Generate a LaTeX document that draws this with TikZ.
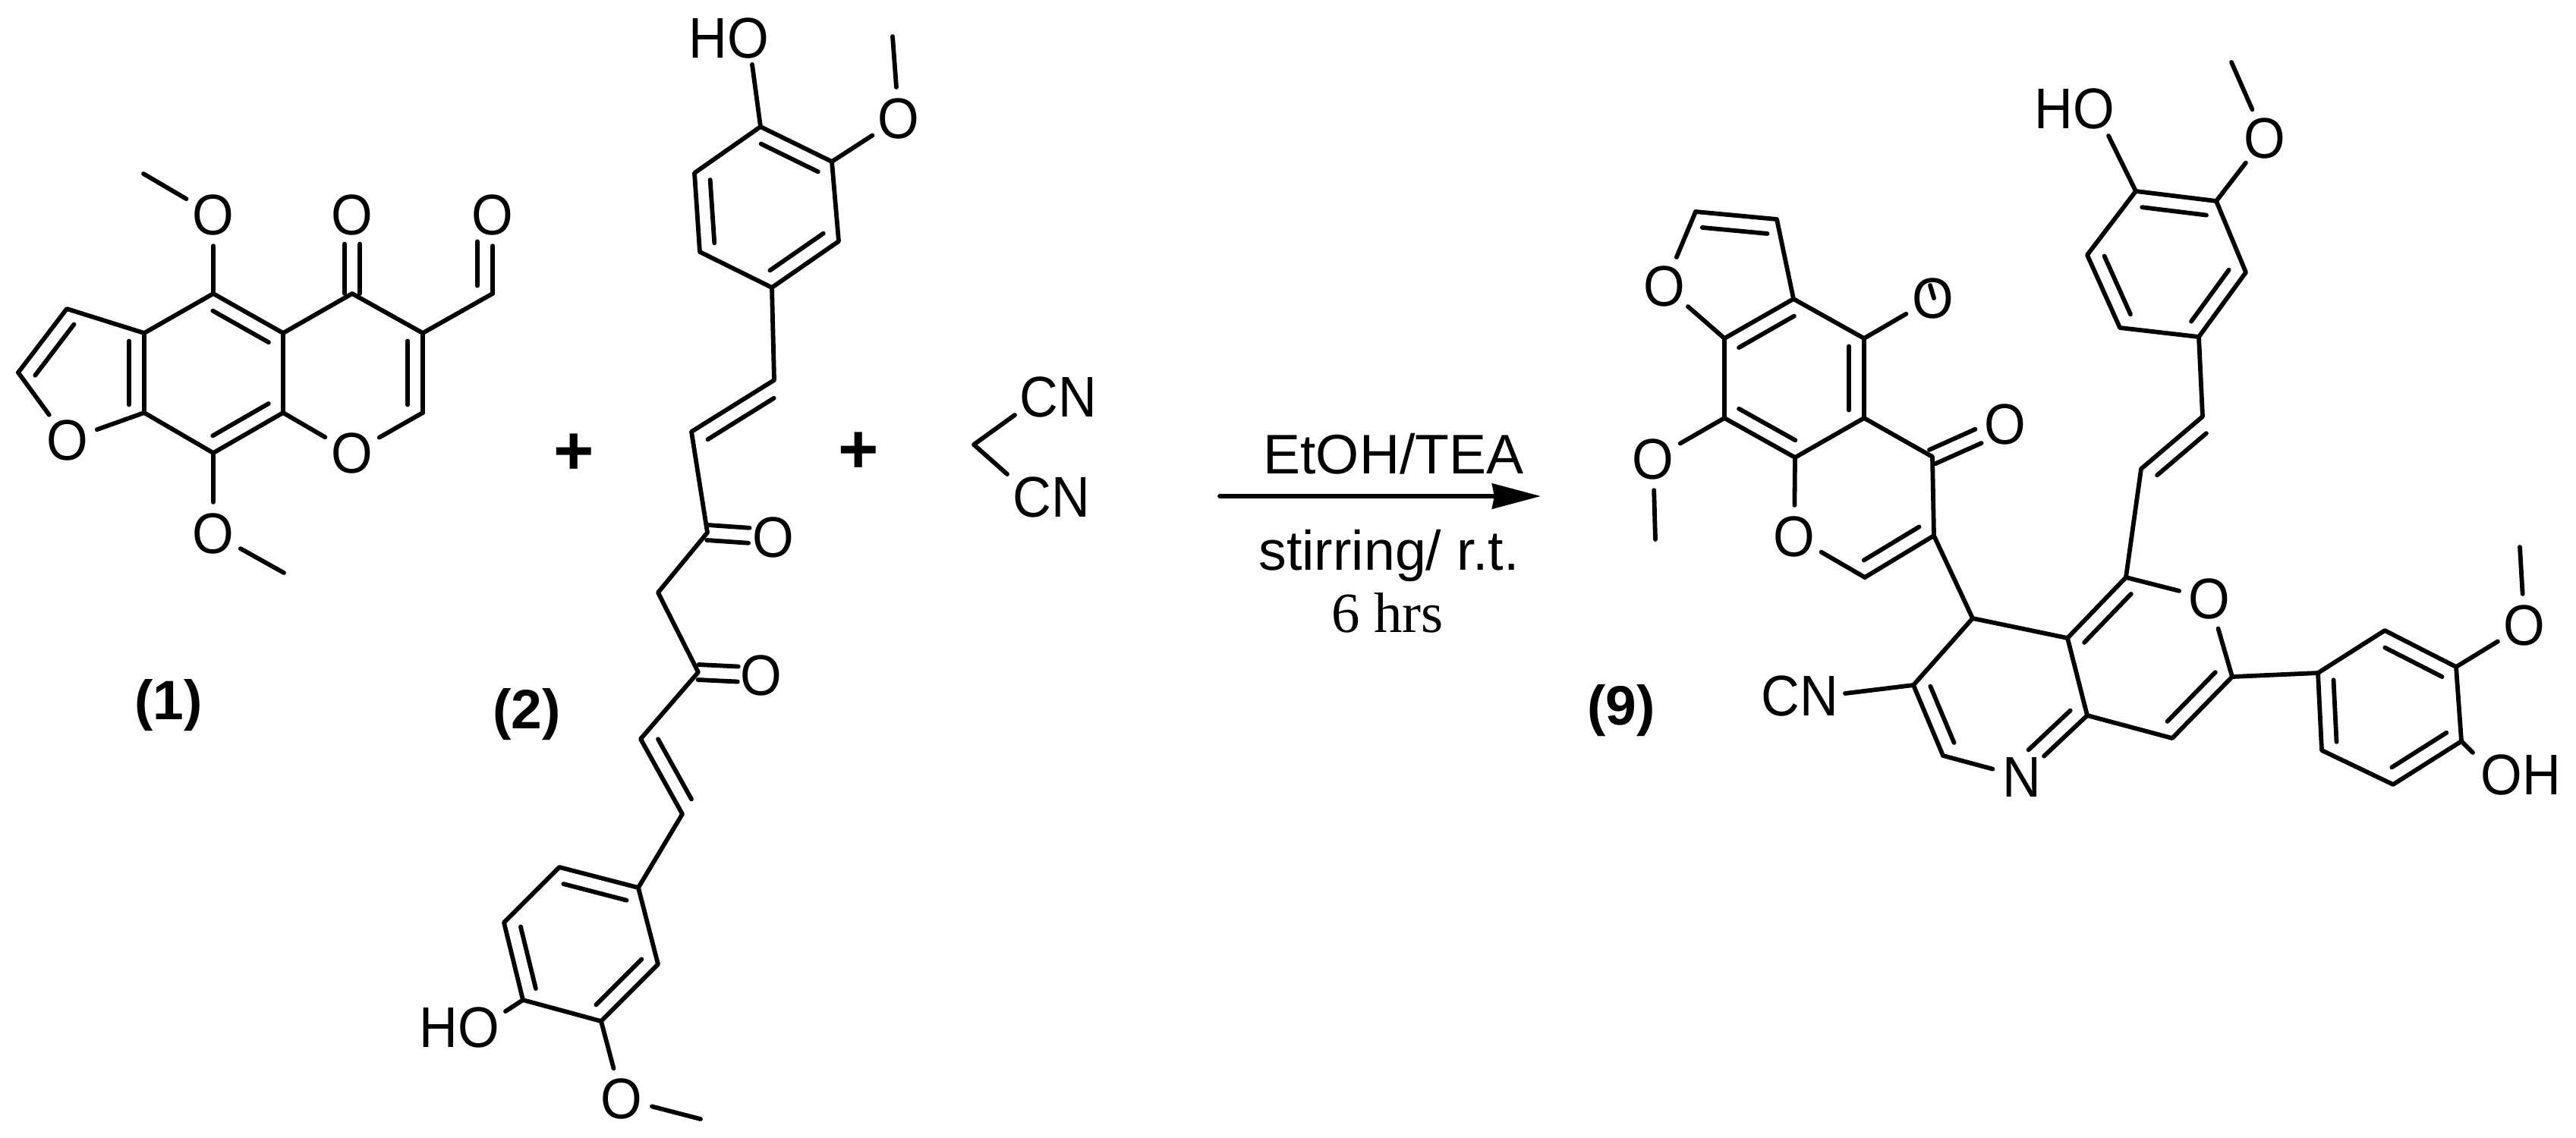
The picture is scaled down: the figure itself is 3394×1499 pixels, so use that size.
\documentclass[tikz,border=0pt]{standalone}
\usepackage{fontspec}
\usepackage{tikz}
\usetikzlibrary{calc,arrows.meta}
\setmainfont{Liberation Sans}
\newfontfamily\serifpart{Liberation Serif}
\newfontfamily\atompart[FakeStretch=0.93]{Liberation Sans}
\newcommand{\atomfont}{\fontsize{21.5}{25}\selectfont\atompart}
\newcommand{\inbond}[4][0.9]{\draw ($(#2)!0.1!(#3)!0.2cm!#4:(#3)$) -- ($(#2)!#1!(#3)!0.2cm!#4:(#3)$);}
\newcommand{\twobond}[2]{
    \draw ($(#1)!0.1cm!90:(#2)$) -- ($(#1)!0.63!(#2)!0.1cm!90:(#2)$);
    \draw ($(#1)!0.1cm!-90:(#2)$) -- ($(#1)!0.63!(#2)!0.1cm!-90:(#2)$);
}
\tikzset{
    atom/.style={circle, inner sep=0pt, minimum size=0.74cm, font=\atomfont},
    group/.style={inner sep=0pt, font=\atomfont},
    compound/.style={inner sep=0pt, font=\fontsize{20.8}{25}\selectfont\bfseries},
    plus/.style={inner sep=0pt, font=\fontsize{26}{30}\selectfont\bfseries},
    cond/.style={inner sep=0pt, anchor=base, font=\fontsize{20.9}{25}\selectfont}
}

\begin{document}
\begin{tikzpicture}[x=0.01cm, y=-0.01cm, line width=0.058cm, line cap=round, line join=round]
    \useasboundingbox (0, 0) rectangle (3394, 1499);

    \coordinate (a1) at (281, 387);
    \coordinate (a2) at (373, 439);
    \coordinate (a3) at (373, 544);
    \coordinate (a4) at (281, 597);
    \coordinate (a5) at (190, 544);
    \coordinate (a6) at (190, 439);
    \coordinate (a7) at (464, 387);
    \coordinate (a8) at (557, 439);
    \coordinate (a9) at (557, 544);
    \coordinate (a10) at (649, 387);
    \coordinate (a11) at (88, 407);
    \coordinate (a12) at (24, 491);
    \coordinate (mea1) at (189, 229);
    \coordinate (mea2) at (374, 755);
    \node[atom] (oa1) at (281, 283) {O};
    \node[atom] (oa2) at (281, 703) {O};
    \node[atom] (oa3) at (464, 283) {O};
    \node[atom] (oa4) at (649, 283) {O};
    \node[atom] (oa5) at (464, 597) {O};
    \node[atom] (oa6) at (89, 580) {O};
    \draw (a1) -- (a2) -- (a3) -- (a4) -- (a5) -- (a6) -- (a1);
    \draw (a2) -- (a7) -- (a8) -- (a9);
    \draw (a8) -- (a10);
    \draw (a6) -- (a11) -- (a12);
    \draw (a12) -- (oa6);
    \draw (a5) -- (oa6);
    \draw (a3) -- (oa5);
    \draw (a9) -- (oa5);
    \draw (a1) -- (oa1);
    \draw (oa1) -- (mea1);
    \draw (a4) -- (oa2);
    \draw (oa2) -- (mea2);
    \draw (a10) -- (oa4);
    \twobond{a7}{oa3}
    \inbond[0.66]{a10}{oa4}{90}
    \inbond{a1}{a2}{-90}
    \inbond{a6}{a5}{-90}
    \inbond{a4}{a3}{90}
    \inbond{a11}{a12}{90}
    \inbond{a8}{a9}{-90}
    \node[compound] (numa) at (222, 930) {(1)};
    \node[plus] (plusa) at (756, 599) {+};

    \coordinate (b1) at (1002, 167);
    \coordinate (b2) at (1096, 213);
    \coordinate (b3) at (1105, 318);
    \coordinate (b4) at (1017, 379);
    \coordinate (b5) at (922, 332);
    \coordinate (b6) at (915, 228);
    \coordinate (b7) at (1020, 501);
    \coordinate (b8) at (911, 569);
    \coordinate (b9) at (932, 702);
    \coordinate (b10) at (867, 781);
    \coordinate (b11) at (920, 886);
    \coordinate (b12) at (844, 974);
    \coordinate (b13) at (899, 1073);
    \coordinate (b14) at (841, 1170);
    \coordinate (b15) at (737, 1143);
    \coordinate (b16) at (664, 1216);
    \coordinate (b17) at (689, 1318);
    \coordinate (b18) at (792, 1346);
    \coordinate (b19) at (867, 1271);
    \coordinate (meb1) at (1176, 48);
    \coordinate (meb2) at (923, 1475);
    \coordinate (hob1) at (991, 85);
    \coordinate (hob2) at (666, 1333);
    \node[group] (ohb1) at (960, 50) {HO};
    \node[group] (ohb2) at (605, 1354) {HO};
    \node[atom] (ob1) at (1184, 156) {O};
    \node[atom] (ob2) at (1019, 708) {O};
    \node[atom] (ob3) at (1003, 890) {O};
    \node[atom] (ob4) at (819, 1448) {O};
    \draw (b1) -- (b2) -- (b3) -- (b4) -- (b5) -- (b6) -- (b1);
    \draw (b4) -- (b7) -- (b8) -- (b9) -- (b10) -- (b11) -- (b12) -- (b13) -- (b14);
    \draw (b14) -- (b15) -- (b16) -- (b17) -- (b18) -- (b19) -- (b14);
    \draw (b1) -- (hob1);
    \draw (b17) -- (hob2);
    \draw (b2) -- (ob1);
    \draw (ob1) -- (meb1);
    \draw (b18) -- (ob4);
    \draw (ob4) -- (meb2);
    \twobond{b9}{ob2}
    \twobond{b11}{ob3}
    \inbond{b1}{b2}{-90}
    \inbond{b6}{b5}{90}
    \inbond{b4}{b3}{90}
    \inbond{b7}{b8}{90}
    \inbond{b12}{b13}{90}
    \inbond{b14}{b15}{90}
    \inbond{b16}{b17}{90}
    \inbond{b18}{b19}{90}
    \node[compound] (numb) at (694, 942) {(2)};
    \node[plus] (plusb) at (1131, 597) {+};

    \coordinate (c1) at (1283, 586);
    \coordinate (cnc1) at (1337, 547);
    \coordinate (cnc2) at (1327, 625);
    \node[group] (cyc1) at (1394, 523) {CN};
    \node[group] (cyc2) at (1385, 655) {CN};
    \draw (cnc1) -- (c1) -- (cnc2);

    \coordinate (arrs) at (1607, 654);
    \coordinate (arrt) at (2030, 654);
    \draw[-{Stealth[length=0.64cm, width=0.33cm, inset=0.03cm]}] (arrs) -- (arrt);
    \node[cond] (cnda) at (1836, 624) {EtOH/TEA};
    \node[cond] (cndb) at (1830, 751) {stirring/ r.t.};
    \node[cond, font=\fontsize{21.3}{25}\selectfont\serifpart] (cndc) at (1828, 833) {6 hrs};

    \coordinate (p1) at (2363, 394);
    \coordinate (p2) at (2456, 446);
    \coordinate (p3) at (2456, 551);
    \coordinate (p4) at (2365, 603);
    \coordinate (p5) at (2272, 551);
    \coordinate (p6) at (2272, 446);
    \coordinate (p7) at (2457, 761);
    \coordinate (p8) at (2548, 706);
    \coordinate (p9) at (2546, 602);
    \coordinate (p10) at (2341, 289);
    \coordinate (p11) at (2234, 279);
    \coordinate (q1) at (2599, 815);
    \coordinate (q2) at (2521, 903);
    \coordinate (q3) at (2560, 996);
    \coordinate (q4) at (2750, 943);
    \coordinate (q5) at (2724, 841);
    \coordinate (q6) at (2801, 761);
    \coordinate (q7) at (2941, 892);
    \coordinate (q8) at (2862, 973);
    \coordinate (t1) at (3054, 887);
    \coordinate (t2) at (3142, 831);
    \coordinate (t3) at (3236, 879);
    \coordinate (t4) at (3243, 977);
    \coordinate (t5) at (3153, 1034);
    \coordinate (t6) at (3059, 989);
    \coordinate (v1) at (2821, 618);
    \coordinate (v2) at (2902, 549);
    \coordinate (w1) at (2897, 444);
    \coordinate (w2) at (2959, 359);
    \coordinate (w3) at (2920, 265);
    \coordinate (w4) at (2814, 252);
    \coordinate (w5) at (2750, 336);
    \coordinate (w6) at (2793, 432);
    \coordinate (mep1) at (2181, 711);
    \coordinate (mep2) at (3320, 721);
    \coordinate (mep3) at (2940, 82);
    \coordinate (cnp) at (2431, 914);
    \coordinate (hop1) at (3258, 992);
    \coordinate (hop2) at (2778, 179);
    \coordinate (ticka) at (2543, 376);
    \coordinate (tickb) at (2548, 393);
    \node[group] (cyp) at (2371, 917) {CN};
    \node[group] (ohp1) at (3321, 1021) {OH};
    \node[group] (ohp2) at (2733, 143) {HO};
    \node[atom] (op1) at (2193, 377) {O};
    \node[atom] (op2) at (2178, 605) {O};
    \node[atom] (op3) at (2547, 393) {O};
    \node[atom] (op4) at (2642, 559) {O};
    \node[atom] (op5) at (2364, 707) {O};
    \node[atom] (op6) at (2911, 789) {O};
    \node[atom] (op7) at (3326, 824) {O};
    \node[atom] (op8) at (2984, 182) {O};
    \node[atom] (np) at (2664, 1024) {N};
    \draw (p1) -- (p2) -- (p3) -- (p4) -- (p5) -- (p6) -- (p1);
    \draw (p1) -- (p10) -- (p11);
    \draw (p11) -- (op1);
    \draw (p6) -- (op1);
    \draw (p5) -- (op2);
    \draw (op2) -- (mep1);
    \draw (p2) -- (op3);
    \draw (ticka) -- (tickb);
    \draw (p3) -- (p9) -- (p8) -- (p7);
    \draw (p4) -- (op5);
    \draw (p7) -- (op5);
    \twobond{p9}{op4}
    \draw (p8) -- (q1) -- (q2) -- (q3);
    \draw (q2) -- (cnp);
    \draw (q3) -- (np);
    \draw (q4) -- (np);
    \draw (q1) -- (q5) -- (q6);
    \draw (q5) -- (q4) -- (q8) -- (q7);
    \draw (q6) -- (op6);
    \draw (q7) -- (op6);
    \draw (q7) -- (t1);
    \draw (t1) -- (t2) -- (t3) -- (t4) -- (t5) -- (t6) -- (t1);
    \draw (t3) -- (op7);
    \draw (op7) -- (mep2);
    \draw (t4) -- (hop1);
    \draw (q6) -- (v1) -- (v2) -- (w1);
    \draw (w1) -- (w2) -- (w3) -- (w4) -- (w5) -- (w6) -- (w1);
    \draw (w4) -- (hop2);
    \draw (w3) -- (op8);
    \draw (op8) -- (mep3);
    \inbond{p6}{p1}{-90}
    \inbond{p2}{p3}{-90}
    \inbond{p5}{p4}{90}
    \inbond{p10}{p11}{90}
    \inbond{p7}{p8}{90}
    \inbond{q2}{q3}{90}
    \inbond[0.74]{q4}{np}{-90}
    \inbond{q5}{q6}{-90}
    \inbond{q7}{q8}{-90}
    \inbond{t2}{t3}{-90}
    \inbond{t1}{t6}{90}
    \inbond{t4}{t5}{-90}
    \inbond{v1}{v2}{-90}
    \inbond{w4}{w3}{-90}
    \inbond{w5}{w6}{90}
    \inbond{w1}{w2}{90}
    \node[compound] (nump) at (2136, 937) {(9)};
\end{tikzpicture}
\end{document}
